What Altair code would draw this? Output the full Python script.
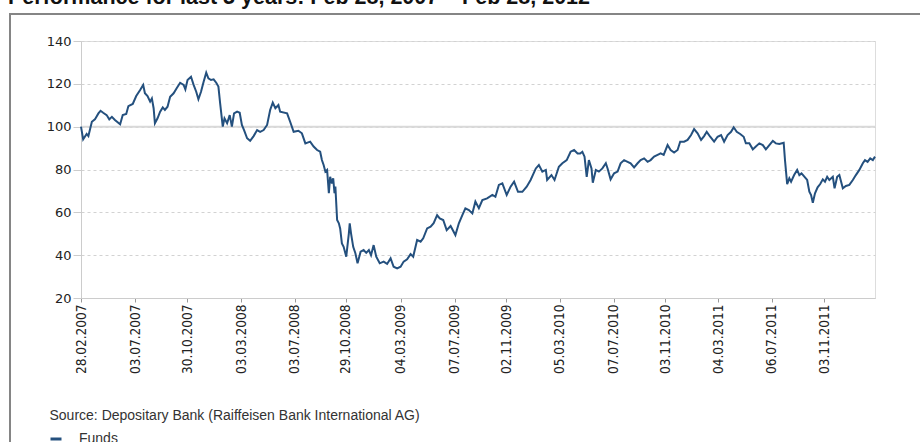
import altair as alt
import pandas as pd

# ---------------- data ----------------
START_DATE = "2007-02-28"

# days elapsed since 28.02.2007
day = [
    0, 5, 13, 17, 25, 32, 40, 45, 51, 59,
    65, 71, 78, 90, 96, 104, 109, 119, 127, 136,
    143, 147, 153, 159, 163, 167, 170, 176, 182, 188,
    193, 199, 205, 213, 220, 228, 236, 240, 245, 253,
    259, 265, 270, 276, 282, 288, 293, 299, 305, 311,
    316, 320, 326, 330, 336, 342, 347, 352, 359, 365,
    370, 375, 382, 389, 397, 405, 412, 420, 428, 435,
    441, 447, 454, 458, 474, 481, 489, 500, 508, 516,
    527, 535, 543, 550, 554, 558, 562, 566, 570, 573,
    577, 580, 583, 585, 589, 593, 596, 600, 604, 610,
    616, 618, 621, 626, 631, 636, 643, 650, 656, 662,
    667, 673, 679, 687, 696, 704, 712, 719, 727, 735,
    742, 750, 758, 764, 773, 781, 787, 796, 804, 811,
    819, 825, 833, 841, 850, 861, 869, 877, 884, 892,
    900, 907, 915, 923, 934, 946, 953, 961, 969, 979,
    988, 996, 1005, 1015, 1025, 1034, 1046, 1053, 1061, 1069,
    1072, 1082, 1089, 1099, 1107, 1117, 1126, 1134, 1142, 1148,
    1153, 1158, 1163, 1168, 1174, 1177, 1184, 1191, 1199, 1207,
    1211, 1218, 1226, 1234, 1241, 1249, 1257, 1264, 1272, 1280,
    1287, 1295, 1303, 1310, 1318, 1326, 1333, 1340, 1349, 1356,
    1364, 1372, 1378, 1387, 1395, 1403, 1410, 1418, 1426, 1433,
    1439, 1447, 1456, 1464, 1472, 1479, 1487, 1495, 1501, 1508,
    1516, 1524, 1529, 1537, 1545, 1552, 1560, 1568, 1575, 1583,
    1591, 1598, 1606, 1616, 1619, 1624, 1629, 1633, 1640, 1647,
    1652, 1657, 1664, 1670, 1675, 1679, 1683, 1688, 1694, 1700,
    1706, 1711, 1716, 1721, 1729, 1733, 1739, 1744, 1752, 1759,
    1767, 1775, 1782, 1790, 1798, 1803, 1809, 1815, 1821, 1826,
]

funds = [
    100, 94.1, 96.6, 95.6, 102.3, 103.4, 106.2, 107.4, 106.5, 105.4,
    103.4, 104.6, 103.1, 101.1, 105.4, 105.9, 109.6, 110.6, 114.3, 117.1,
    119.5, 115.6, 114.3, 111.7, 113.2, 108.6, 101.6, 103.9, 107, 109,
    107.8, 109.3, 114, 115.6, 117.9, 120.5, 119.5, 117.4, 121.8, 123.3,
    119.5, 116.3, 112.8, 116.3, 121, 125.2, 122.6, 121.8, 122.1, 120.5,
    118.7, 110.9, 100, 103.9, 101.6, 105.4, 100, 106.2, 107, 106.5,
    100.8, 98.4, 94.6, 93.4, 95.6, 98.4, 97.6, 98.4, 100.8, 107.8,
    111.2, 108.6, 110.1, 107, 106.2, 102.3, 97.6, 98.1, 96.9, 92.2,
    93, 90.7, 89.1, 88.3, 84.4, 82.1, 79, 79.8, 68.9, 76.6,
    73.5, 75.9, 68.9, 72, 56.4, 54.9, 52.5, 45.5, 43.9, 39.3,
    50.2, 54.9, 50.2, 43.9, 40.9, 36.2, 41.6, 42.4, 41.1, 42.4,
    40, 44.7, 39.3, 36.2, 37, 35.9, 38.5, 34.6, 33.8, 34.6,
    37, 38.1, 40.5, 39.3, 47.1, 46.3, 47.9, 52.5, 53.3, 54.9,
    58.7, 57.2, 56.4, 51.7, 53.6, 49.4, 54.9, 58.7, 61.9, 61.1,
    59.5, 65, 61.9, 65.7, 66.5, 68.1, 67.3, 72.8, 73.5, 68.1,
    72, 74.3, 69.6, 69.6, 72, 75.1, 80.5, 82.1, 79, 79.8,
    75.1, 77.4, 75.1, 81.3, 82.9, 84.4, 88.3, 89.1, 87.5, 87.5,
    88.3, 86, 76.6, 84.4, 80.5, 73.8, 79.8, 79, 80.5, 82.9,
    80.5, 75.4, 78.2, 79, 82.9, 84.4, 83.6, 82.9, 81, 82.9,
    84.4, 85.2, 83.6, 84.4, 86, 86.8, 87.5, 86.8, 91.4, 89.1,
    87.9, 89.1, 93, 93, 93.8, 96.1, 98.9, 96.9, 93.8, 95.6,
    97.6, 95.3, 93, 95.3, 96.1, 93, 96.1, 97.6, 99.7, 97.6,
    96.6, 95.3, 92.2, 92.2, 89.4, 90.7, 92.2, 91.4, 89.4, 91.4,
    93.4, 92.2, 91.9, 92.5, 84.4, 73.2, 75.9, 74.3, 77.4, 79.8,
    77.4, 78.2, 76.6, 75.1, 69.6, 68.1, 64.5, 68.9, 71.7, 73.2,
    75.4, 74.3, 76.6, 75.1, 76.6, 71.2, 76.6, 77.4, 71.2, 72.3,
    72.8, 75.1, 77.4, 79.8, 82.9, 84.4, 83.6, 85.2, 84.4, 86,
]

tick_dates = [
    (2007, 2, 28), (2007, 7, 3), (2007, 10, 30), (2008, 3, 3), (2008, 7, 3),
    (2008, 10, 29), (2009, 3, 4), (2009, 7, 7), (2009, 11, 2), (2010, 3, 5),
    (2010, 7, 7), (2010, 11, 3), (2011, 3, 4), (2011, 7, 6), (2011, 11, 3),
]
domain_dates = [(2007, 2, 28), (2012, 2, 28)]
y_ticks = [20, 40, 60, 80, 100, 120, 140]
baseline_value = [100]
series_name = "Funds"

title_text = "Performance for last 5 years: Feb 28, 2007 \u2013 Feb 28, 2012"
source_text = "Source: Depositary Bank (Raiffeisen Bank International AG)"

LINE_COLOR = "#24507e"

# ---------------- build ----------------
df = pd.DataFrame({"day": day, "value": funds})
df["date"] = (pd.Timestamp(START_DATE) + pd.to_timedelta(df["day"], unit="D")).dt.strftime("%Y-%m-%d")
df["series"] = series_name


def dt(t):
    return alt.DateTime(year=t[0], month=t[1], date=t[2], utc=True)


x_enc = alt.X(
    "date:T",
    scale=alt.Scale(type="utc", domain=[dt(d) for d in domain_dates], nice=False),
    axis=alt.Axis(
        values=[dt(d) for d in tick_dates],
        labelExpr="utcFormat(datum.value, '%d.%m.%Y')",
        labelAngle=270,
        labelFont="Liberation Sans Narrow, Arial Narrow, DejaVu Sans Condensed, sans-serif",
        labelFontSize=13.5,
        labelColor="#222222",
        labelPadding=2,
        labelOverlap=False,
        labelFlush=False,
        tickColor="#9a9a9a",
        tickSize=4,
        domainColor="#cccccc",
        grid=False,
        title=source_text,
        titleX=-32,
        titleY=121,
        titleAlign="left",
        titleBaseline="alphabetic",
        titleFont="Liberation Sans",
        titleFontSize=14,
        titleFontWeight="normal",
        titleColor="#333333",
    ),
)

y_enc = alt.Y(
    "value:Q",
    scale=alt.Scale(domain=[20, 140], nice=False, zero=False),
    axis=alt.Axis(
        values=y_ticks,
        grid=True,
        gridDash=[3, 3],
        gridColor="#d2d2d2",
        domainColor="#cccccc",
        tickColor="#cccccc",
        tickSize=8,
        labelPadding=2,
        labelFont="DejaVu Sans",
        labelFontSize=13,
        labelColor="#222222",
        title=None,
    ),
)

line = alt.Chart(df).mark_line(strokeWidth=2).encode(
    x=x_enc,
    y=y_enc,
    color=alt.Color(
        "series:N",
        scale=alt.Scale(domain=[series_name], range=[LINE_COLOR]),
        title=None,
        legend=alt.Legend(
            orient="none",
            legendX=-32,
            legendY=391,
            symbolType="stroke",
            symbolSize=121,
            symbolStrokeWidth=3,
            labelFont="Liberation Sans",
            labelFontSize=14,
            labelColor="#333333",
            labelOffset=16,
        ),
    ),
)

rule100 = alt.Chart(pd.DataFrame({"v": baseline_value})).mark_rule(
    color="#d9d9d9", strokeWidth=2
).encode(y=alt.Y("v:Q"))

frame = alt.Chart(alt.Data(values=[{"k": 1}])).mark_rect(
    fillOpacity=0, stroke="#858585", strokeWidth=2
).encode(x=alt.value(-71), x2=alt.value(1000), y=alt.value(-27), y2=alt.value(600))

chart = (
    alt.layer(frame, rule100, line)
    .properties(
        width=794,
        height=257,
        autosize="none",
        padding={"left": 81, "top": 41, "right": 45, "bottom": 144},
        title=alt.TitleParams(
            text=title_text,
            anchor="start",
            frame="group",
            orient="top",
            dx=-73,
            dy=19,
            offset=7,
            baseline="alphabetic",
            font="Liberation Sans",
            fontSize=21.5,
            fontWeight="bold",
            color="#111111",
        ),
    )
    .configure_view(stroke="transparent")
    .configure(background="white")
)

chart.save("out.html", embed_options={"renderer": "svg", "actions": False})
